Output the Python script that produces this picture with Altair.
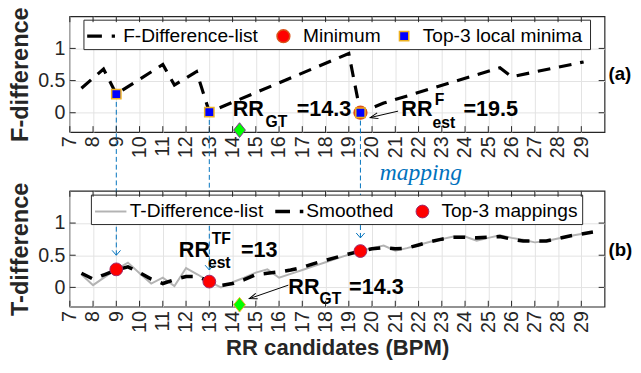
import altair as alt
import pandas as pd

# ---------------- data ----------------
F_RR = [7.5, 8.45, 9.0, 11.0, 11.5, 12.45, 13.0, 19.0, 19.5, 20.5, 25.5, 26.0, 29.1]
F_VAL = [0.38, 0.68, 0.29, 0.75, 0.43, 0.64, 0.01, 0.92, 0.0, 0.15, 0.70, 0.56, 0.79]

T_RR = [7.5, 8.0, 8.5, 9.0, 9.5, 10.0, 10.5, 11.0, 11.5, 12.0, 12.5, 13.0, 13.5, 14.0, 14.5,
        15.0, 15.5, 16.0, 16.5, 17.0, 17.5, 18.0, 18.5, 19.0, 19.5, 20.0, 20.5, 21.0, 21.5,
        22.0, 22.5, 23.0, 23.5, 24.0, 24.5, 25.0, 25.5, 26.0, 26.5, 27.0, 27.5, 28.0, 28.5,
        29.0, 29.5]
T_RAW = [0.20, 0.035, 0.16, 0.28, 0.385, 0.22, 0.06, 0.15, 0.02, 0.30, 0.20, 0.09, 0.0, 0.08, 0.15,
         0.23, 0.28, 0.15, 0.21, 0.27, 0.33, 0.39, 0.45, 0.51, 0.565, 0.61, 0.65, 0.57, 0.61,
         0.66, 0.71, 0.75, 0.79, 0.79, 0.725, 0.77, 0.81, 0.77, 0.74, 0.70, 0.72, 0.76, 0.80,
         0.83, 0.86]
T_SMOOTH = [0.22, 0.13, 0.20, 0.27, 0.32, 0.23, 0.13, 0.06, 0.12, 0.17, 0.17, 0.09, 0.03, 0.06, 0.12,
            0.20, 0.22, 0.24, 0.27, 0.31, 0.37, 0.42, 0.47, 0.52, 0.565, 0.60, 0.62, 0.60, 0.61,
            0.66, 0.71, 0.75, 0.78, 0.78, 0.77, 0.78, 0.79, 0.75, 0.72, 0.72, 0.72, 0.76, 0.80,
            0.83, 0.86]

LOCMIN_RR = [9.0, 13.0, 19.5]
LOCMIN_VAL = [0.29, 0.01, 0.0]
MIN_RR = [19.5]
MIN_VAL = [0.0]
MAP_RR = [9.0, 13.0, 19.5]
MAP_VAL = [0.28, 0.09, 0.565]
MAP_TIP = [0.50, 0.27, 0.77]
GT_RR = [14.3]
GT_VAL = [-0.27]

XTICKS = list(range(7, 30))
YTICKS = [0, 0.5, 1]

TOP_TEXT = ["RR", "GT", "=14.3", "RR", "F", "est", "=19.5"]
TOP_TEXT_X = [14.01, 15.42, 16.76, 21.26, 22.70, 22.60, 23.93]
TOP_TEXT_Y = [-0.05, -0.225, -0.05, -0.05, 0.115, -0.245, -0.05]
TOP_TEXT_BIG = [True, False, True, True, False, False, True]

BOT_TEXT = ["RR", "TF", "est", "=13", "RR", "GT", "=14.3"]
BOT_TEXT_X = [11.69, 13.10, 12.94, 14.36, 16.40, 17.74, 19.01]
BOT_TEXT_Y = [0.475, 0.675, 0.30, 0.475, -0.10, -0.26, -0.10]
BOT_TEXT_BIG = [True, False, False, True, True, False, True]

TOP_ARROW = {"x": [21.12], "y": [0.025], "x2": [19.92], "y2": [-0.075]}
BOT_ARROW = {"x": [16.40], "y": [0.035], "x2": [14.72], "y2": [-0.175]}

# ---------------- styling ----------------
W, H, GAP = 545, 118, 60
FONT = "Liberation Sans"
INK = "#262626"
BLUE = "#0072BD"

xscale = alt.Scale(domain=[7, 30], nice=False, zero=False)
yscale = alt.Scale(domain=[-0.3, 1.5], nice=False, zero=False)


def xaxis(title):
    kw = dict(values=XTICKS, labelAngle=270, labelFontSize=20, labelFont=FONT,
              labelColor=INK, labelPadding=4, ticks=False, domain=False, grid=True,
              gridColor="#e2e2e2", labelOverlap=False, labelFlush=False,
              titleFont=FONT, titleFontSize=22.5, titleFontWeight="bold",
              titleColor=INK, titlePadding=5)
    kw["title"] = title if title else None
    return alt.Axis(**kw)


def yaxis(title):
    return alt.Axis(values=YTICKS, title=title, labelFontSize=20, labelFont=FONT,
                    labelColor=INK, labelPadding=5, ticks=False, domain=False, grid=True,
                    gridColor="#e2e2e2", labelExpr="datum.value == 0.5 ? '0.5' : format(datum.value, 'd')",
                    titleFont=FONT, titleFontSize=24, titleFontWeight="bold", titleColor=INK,
                    titlePadding=4, minExtent=34, maxExtent=34)


one = pd.DataFrame({"k": [0]})


def panel(xtitle, ytitle):
    X = lambda f: alt.X(f, type="quantitative", scale=xscale, axis=xaxis(xtitle))
    Y = lambda f: alt.Y(f, type="quantitative", scale=yscale, axis=yaxis(ytitle))
    return X, Y


def ticks_layers(X, Y):
    xt = pd.DataFrame({"x": XTICKS})
    yt = pd.DataFrame({"y": YTICKS})
    r = dict(color=INK, strokeWidth=1)
    return [
        alt.Chart(xt).mark_rule(**r).encode(x=X("x"), y=alt.value(H), y2=alt.value(H - 6)),
        alt.Chart(xt).mark_rule(**r).encode(x=X("x"), y=alt.value(0), y2=alt.value(6)),
        alt.Chart(yt).mark_rule(**r).encode(y=Y("y"), x=alt.value(0), x2=alt.value(6)),
        alt.Chart(yt).mark_rule(**r).encode(y=Y("y"), x=alt.value(W), x2=alt.value(W - 6)),
    ]


def legend_text(txt, x, y):
    return alt.Chart(one).mark_text(text=txt, align="left", baseline="middle", font=FONT,
                                    fontSize=19.5, color="black").encode(x=alt.value(x), y=alt.value(y))


def annot_layers(X, Y, texts, xs, ys, big):
    df = pd.DataFrame({"t": texts, "x": xs, "y": ys, "big": big})
    out = []
    for flag, fs in [(True, 22), (False, 16)]:
        out.append(alt.Chart(df[df.big == flag]).mark_text(
            align="left", baseline="alphabetic", font=FONT, fontWeight="bold",
            fontSize=fs, color="black").encode(x=X("x"), y=Y("y"), text="t:N"))
    return out


def arrow_layers(X, Y, arrow, angle):
    df = pd.DataFrame(arrow)
    return [
        alt.Chart(df).mark_rule(color="black", strokeWidth=1).encode(
            x=X("x"), y=Y("y"), x2="x2", y2="y2"),
        alt.Chart(df).mark_point(shape="M-2,-0.75L0,0L-2,0.75", filled=False, size=64,
                                 stroke="black", strokeWidth=1, opacity=1, angle=angle).encode(
            x=X("x2"), y=Y("y2")),
    ]


DIAMOND = "M0,-1.25L1,0L0,1.25L-1,0Z"

# ---------------- top panel ----------------
X, Y = panel(None, "F-difference")
f_df = pd.DataFrame({"x": F_RR, "y": F_VAL})
lm_df = pd.DataFrame({"x": LOCMIN_RR, "y": LOCMIN_VAL})
min_df = pd.DataFrame({"x": MIN_RR, "y": MIN_VAL})
gt_df = pd.DataFrame({"x": GT_RR, "y": GT_VAL})

top_layers = [
    alt.Chart(f_df).mark_line(color="black", strokeWidth=3.2, strokeDash=[13, 9]).encode(
        x=X("x"), y=Y("y")),
    alt.Chart(lm_df).mark_rule(color=BLUE, strokeWidth=1, strokeDash=[5, 3]).encode(
        x=X("x"), y=Y("y"), y2=alt.value(H + GAP)),
    alt.Chart(min_df).mark_point(shape="circle", filled=True, size=170, fill="#ff0000",
                                 stroke="#D95319", strokeWidth=1.5, opacity=1).encode(
        x=X("x"), y=Y("y")),
    alt.Chart(lm_df).mark_point(shape="square", filled=True, size=90, fill="#0000ff",
                                stroke="#EDB120", strokeWidth=1.5, opacity=1).encode(
        x=X("x"), y=Y("y")),
    alt.Chart(gt_df).mark_point(shape=DIAMOND, filled=True, size=144, fill="#00ff00",
                                stroke="#7E2F8E", strokeWidth=1, opacity=1).encode(
        x=X("x"), y=Y("y")),
]
top_layers += annot_layers(X, Y, TOP_TEXT, TOP_TEXT_X, TOP_TEXT_Y, TOP_TEXT_BIG)
top_layers += arrow_layers(X, Y, TOP_ARROW, 166.7)
top_layers += [
    alt.Chart(pd.DataFrame({"x": [20.33], "y": [-1.04]})).mark_text(
        text="mapping", align="left", baseline="alphabetic", font="Liberation Serif",
        fontStyle="italic", fontSize=24, color=BLUE).encode(x=X("x"), y=Y("y")),
    alt.Chart(one).mark_text(text="(a)", align="left", baseline="middle", font=FONT,
                             fontWeight="bold", fontSize=19, color="black").encode(
        x=alt.value(W + 4), y=alt.value(59)),
    # legend
    alt.Chart(one).mark_rect(fill="white", stroke=INK, strokeWidth=1).encode(
        x=alt.value(14.4), x2=alt.value(530.7), y=alt.value(4), y2=alt.value(34)),
    alt.Chart(one).mark_rule(color="black", strokeWidth=3.2, strokeDash=[15, 10]).encode(
        x=alt.value(17.7), x2=alt.value(46), y=alt.value(20.3)),
    legend_text("F-Difference-list", 54.4, 20.3),
    alt.Chart(one).mark_point(shape="circle", filled=True, size=170, fill="#ff0000",
                              stroke="#D95319", strokeWidth=1.5, opacity=1).encode(
        x=alt.value(217.7), y=alt.value(20.3)),
    legend_text("Minimum", 237.7, 20.3),
    alt.Chart(one).mark_point(shape="square", filled=True, size=90, fill="#0000ff",
                              stroke="#EDB120", strokeWidth=1.5, opacity=1).encode(
        x=alt.value(340.7), y=alt.value(20.3)),
    legend_text("Top-3 local minima", 359.7, 20.3),
]
top_layers += ticks_layers(X, Y)
top = alt.layer(*top_layers).properties(width=W, height=H)

# ---------------- bottom panel ----------------
X, Y = panel("RR candidates (BPM)", "T-difference")
t_df = pd.DataFrame({"x": T_RR, "raw": T_RAW, "sm": T_SMOOTH})
map_df = pd.DataFrame({"x": MAP_RR, "y": MAP_VAL, "tip": MAP_TIP})

bot_layers = [
    alt.Chart(t_df).mark_line(color="#b3b3b3", strokeWidth=2).encode(x=X("x"), y=Y("raw")),
    alt.Chart(t_df).mark_line(color="black", strokeWidth=3.6, strokeDash=[12, 10]).encode(
        x=X("x"), y=Y("sm")),
    alt.Chart(map_df).mark_rule(color=BLUE, strokeWidth=1, strokeDash=[5, 3]).encode(
        x=X("x"), y=Y("tip"), y2=alt.value(0)),
    alt.Chart(map_df).mark_point(shape="M-1,-1.15L0,0L1,-1.15", filled=False, size=74,
                                 stroke=BLUE, strokeWidth=1, opacity=1).encode(
        x=X("x"), y=Y("tip")),
    alt.Chart(map_df).mark_point(shape="circle", filled=True, size=170, fill="#ff0000",
                                 stroke="#9c2a6a", strokeWidth=1, opacity=1).encode(
        x=X("x"), y=Y("y")),
    alt.Chart(gt_df).mark_point(shape=DIAMOND, filled=True, size=144, fill="#00ff00",
                                stroke="#EDB120", strokeWidth=1, opacity=1).encode(
        x=X("x"), y=Y("y")),
]
bot_layers += annot_layers(X, Y, BOT_TEXT, BOT_TEXT_X, BOT_TEXT_Y, BOT_TEXT_BIG)
bot_layers += arrow_layers(X, Y, BOT_ARROW, 160.7)
bot_layers += [
    alt.Chart(one).mark_text(text="(b)", align="left", baseline="middle", font=FONT,
                             fontWeight="bold", fontSize=19, color="black").encode(
        x=alt.value(W + 4), y=alt.value(60.3)),
    alt.Chart(one).mark_rect(fill="white", stroke=INK, strokeWidth=1).encode(
        x=alt.value(22), x2=alt.value(522.7), y=alt.value(4.3), y2=alt.value(34.3)),
    alt.Chart(one).mark_rule(color="#b3b3b3", strokeWidth=2).encode(
        x=alt.value(25.7), x2=alt.value(57.7), y=alt.value(21)),
    legend_text("T-Difference-list", 61, 21),
    alt.Chart(one).mark_rule(color="black", strokeWidth=3.6, strokeDash=[15, 10]).encode(
        x=alt.value(209.4), x2=alt.value(238), y=alt.value(21)),
    legend_text("Smoothed", 241, 21),
    alt.Chart(one).mark_point(shape="circle", filled=True, size=170, fill="#ff0000",
                              stroke="#9c2a6a", strokeWidth=1, opacity=1).encode(
        x=alt.value(359.4), y=alt.value(21)),
    legend_text("Top-3 mappings", 378.7, 21),
]
bot_layers += ticks_layers(X, Y)
bottom = alt.layer(*bot_layers).properties(width=W, height=H)

chart = alt.vconcat(top, bottom, spacing=GAP, bounds="flush").configure_view(
    stroke=INK, strokeWidth=1.2).properties(
    padding={"left": 0, "top": -6, "right": 0, "bottom": 0})

chart.save("out.html", embed_options={"renderer": "svg", "actions": False})
